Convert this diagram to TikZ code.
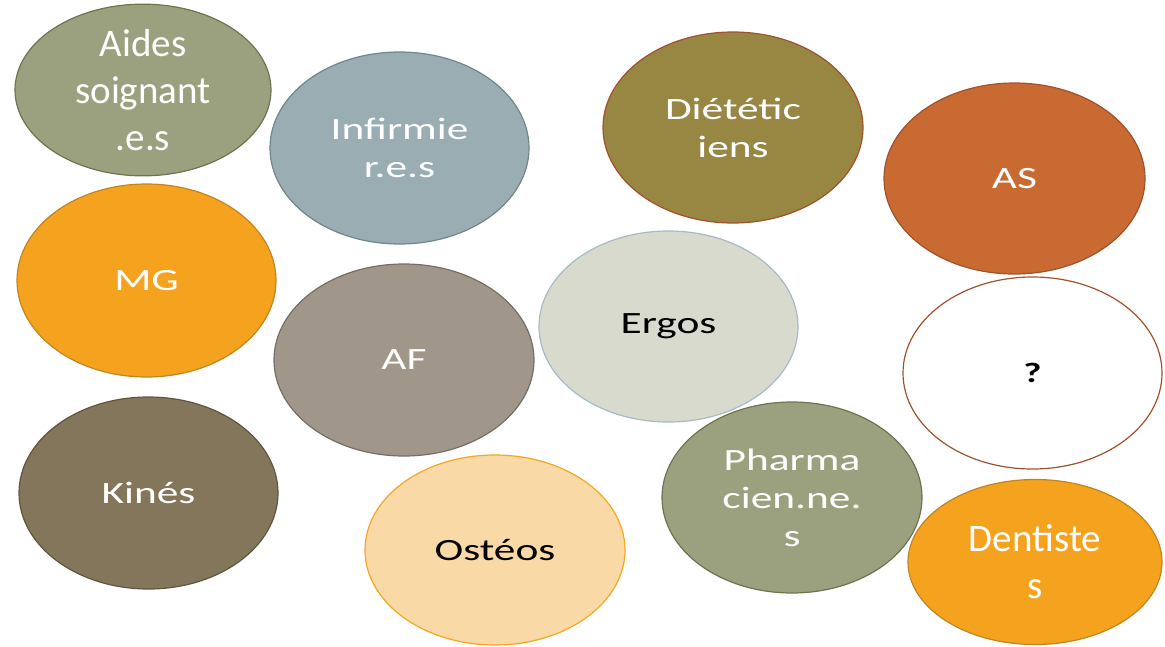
\documentclass[tikz,border=0pt]{standalone}
\usepackage{fontspec}
\setmainfont{Carlito}
\newfontfamily\widefont{Carlito}[FakeStretch=1.4]
\newfontfamily\widefontbold{Carlito}[FakeStretch=1.4, UprightFont=*-Bold]
\usetikzlibrary{shapes.geometric}
\definecolor{cAides}{HTML}{9BA17F}\definecolor{bAides}{HTML}{6E7350}
\definecolor{cInf}{HTML}{9AADB3}\definecolor{bInf}{HTML}{728589}
\definecolor{cDiet}{HTML}{978743}\definecolor{bRed}{HTML}{A0522D}
\definecolor{cAS}{HTML}{C86A32}
\definecolor{cMG}{HTML}{F5A31F}\definecolor{bMG}{HTML}{C0851F}
\definecolor{cAF}{HTML}{A0968A}\definecolor{bAF}{HTML}{756E65}
\definecolor{cErg}{HTML}{D8DACD}\definecolor{bErg}{HTML}{A5BBC5}
\definecolor{cKin}{HTML}{84765A}\definecolor{bKin}{HTML}{5F5540}
\definecolor{cOst}{HTML}{F9D9A5}\definecolor{bOst}{HTML}{F5A623}
\tikzset{
  blob/.style={ellipse, inner sep=0pt, line width=1.2pt, align=center},
  bigtext/.style={font=\fontsize{39}{47}\selectfont, text=white},
  midtext/.style={font=\widefont\fontsize{31}{38}\selectfont, text=white},
  darktext/.style={font=\widefont\fontsize{31}{38}\selectfont, text=black},
}
\begin{document}
\begin{tikzpicture}[x=1pt,y=-1pt]
\useasboundingbox (0,0) rectangle (1165,646);
\node[blob, bigtext, fill=cAides, draw=bAides, minimum width=256pt, minimum height=162pt] (aides) at (143,90) {Aides\\soignant\\.e.s};
\node[blob, midtext, fill=cInf, draw=bInf, minimum width=259pt, minimum height=192pt] (inf) at (399.5,148) {Infirmie\\r.e.s};
\node[blob, midtext, fill=cDiet, draw=bRed, minimum width=260pt, minimum height=191pt] (diet) at (733,127.5) {Diététic\\iens};
\node[blob, midtext, fill=cAS, draw=bRed, minimum width=261pt, minimum height=191pt] (as) at (1014.5,178.5) {AS};
\node[blob, midtext, fill=cMG, draw=bMG, minimum width=259pt, minimum height=193pt] (mg) at (146.5,280.5) {MG};
\node[blob, midtext, fill=cAF, draw=bAF, minimum width=260pt, minimum height=192pt] (af) at (404,360) {AF};
\node[blob, darktext, fill=cErg, draw=bErg, minimum width=259pt, minimum height=191pt] (erg) at (668.5,326.5) {Ergos};
\node[blob, darktext, fill=white, draw=bRed, minimum width=259pt, minimum height=192pt, font=\widefontbold\fontsize{28}{34}\selectfont] (q) at (1032.5,373) {?};
\node[blob, midtext, fill=cKin, draw=bKin, minimum width=259pt, minimum height=192pt] (kin) at (148.5,493) {Kinés};
\node[blob, darktext, fill=cOst, draw=bOst, minimum width=260pt, minimum height=190pt] (ost) at (495,550) {Ostéos};
\node[blob, midtext, fill=cAides, draw=bAides, minimum width=260pt, minimum height=191pt] (pharma) at (792,497.5) {Pharma\\cien.ne.\\s};
\node[blob, bigtext, fill=cMG, draw=bMG, minimum width=254pt, minimum height=165pt] (dent) at (1035,562) {Dentiste\\s};
\end{tikzpicture}
\end{document}
